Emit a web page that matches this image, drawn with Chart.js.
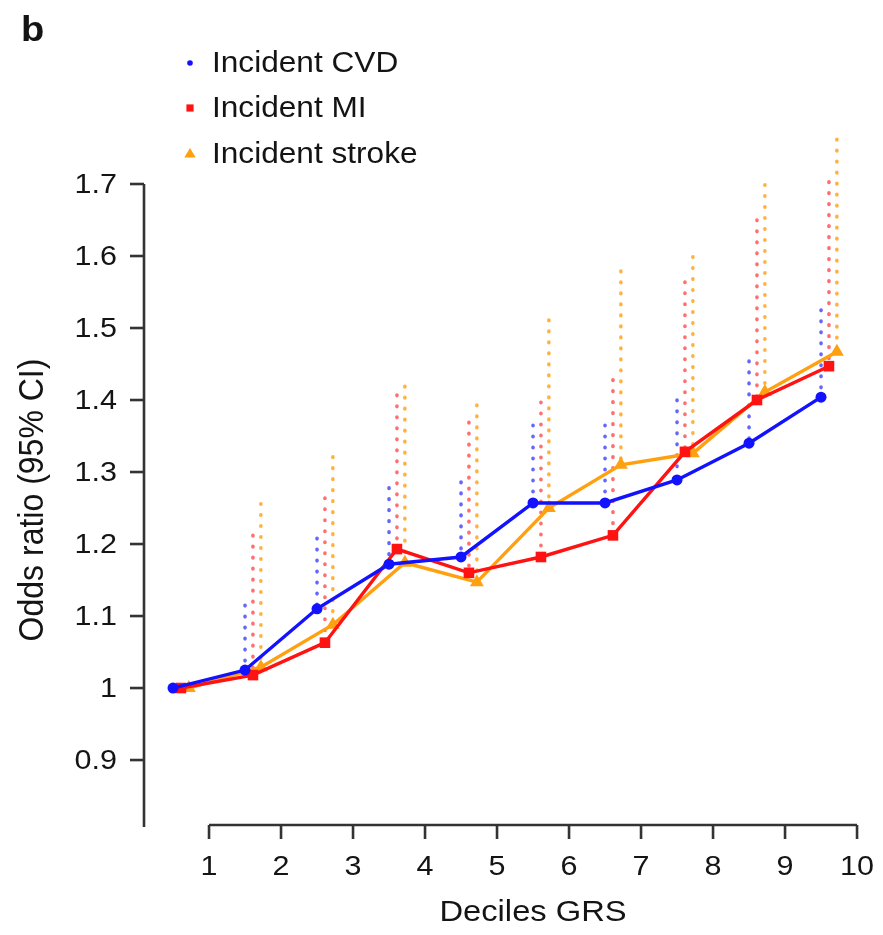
<!DOCTYPE html>
<html>
<head>
<meta charset="utf-8">
<script src="https://cdn.jsdelivr.net/npm/chart.js@4.4.1/dist/chart.umd.min.js"></script>
<style>
  html, body { margin: 0; padding: 0; background: #fff; }
  #wrap { width: 883px; height: 935px; }
</style>
</head>
<body>
<div id="wrap"><canvas id="orChart" width="883" height="935"></canvas></div>
<script>
// Datos: deciles del GRS y odds ratio (con límite superior del IC 95%)
const deciles = [1, 2, 3, 4, 5, 6, 7, 8, 9, 10];
const yTicks = [0.9, 1, 1.1, 1.2, 1.3, 1.4, 1.5, 1.6, 1.7];
const seriesNames = ['Incident CVD', 'Incident MI', 'Incident stroke'];

const cvdOR = [1.00, 1.025, 1.11, 1.172, 1.182, 1.257, 1.257, 1.289, 1.340, 1.404];
const cvdUpper = [null, 1.115, 1.208, 1.278, 1.286, 1.365, 1.365, 1.400, 1.454, 1.525];

const miOR = [1.00, 1.018, 1.063, 1.193, 1.160, 1.182, 1.212, 1.328, 1.400, 1.447];
const miUpper = [null, 1.212, 1.264, 1.407, 1.369, 1.397, 1.428, 1.564, 1.650, 1.703];

const strokeOR = [1.00, 1.029, 1.088, 1.174, 1.147, 1.250, 1.310, 1.326, 1.411, 1.467];
const strokeUpper = [null, 1.256, 1.321, 1.419, 1.393, 1.511, 1.579, 1.599, 1.699, 1.762];

// estilo de cada serie (desplazamiento horizontal dentro del decil)
const styles = [
  { color: '#1212ff', bar: 'rgba(50,50,255,0.75)', shape: 'circle', radius: 5.5, shift: -0.5 },
  { color: '#ff1212', bar: 'rgba(255,50,50,0.7)', shape: 'rect', radius: 7.5, shift: -0.39 },
  { color: '#ffa010', bar: 'rgba(255,165,30,0.85)', shape: 'triangle', radius: 8, shift: -0.28 }
];
const orSeries = [cvdOR, miOR, strokeOR];
const upperSeries = [cvdUpper, miUpper, strokeUpper];

const FONT = '"Liberation Sans", Arial, Helvetica, sans-serif';
const INK = '#141414';
const STRETCH = 1.09; // el original está algo ensanchado en horizontal

function points(values, shift) {
  return deciles.map((d, i) => ({ x: d + shift, y: values[i] }));
}

// texto ensanchado horizontalmente
function wideText(ctx, text, x, y) {
  ctx.save();
  ctx.translate(x, y);
  ctx.scale(STRETCH, 1);
  ctx.fillText(text, 0, 0);
  ctx.restore();
}

function drawMarker(ctx, shape, x, y, r, color) {
  ctx.save();
  ctx.fillStyle = color;
  ctx.beginPath();
  if (shape === 'circle') {
    ctx.arc(x, y, r, 0, Math.PI * 2);
  } else if (shape === 'rect') {
    ctx.rect(x - r, y - r, 2 * r, 2 * r);
  } else {
    ctx.moveTo(x, y - r);
    ctx.lineTo(x + r * 0.95, y + r * 0.6);
    ctx.lineTo(x - r * 0.95, y + r * 0.6);
    ctx.closePath();
  }
  ctx.fill();
  ctx.restore();
}

// Plugin: barras de error punteadas, ejes al estilo R, leyenda y títulos
const rStyle = {
  id: 'rStyle',
  beforeDatasetsDraw(chart) {
    const { ctx } = chart;
    const xs = chart.scales.x, ys = chart.scales.y;
    ctx.save();
    ctx.lineWidth = 3.6;
    ctx.lineCap = 'round';
    ctx.setLineDash([0.6, 10.4]);
    styles.forEach((st, s) => {
      ctx.strokeStyle = st.bar;
      upperSeries[s].forEach((up, i) => {
        if (up == null) return;
        const px = xs.getPixelForValue(deciles[i] + st.shift);
        ctx.beginPath();
        ctx.moveTo(px, ys.getPixelForValue(up));
        ctx.lineTo(px, ys.getPixelForValue(orSeries[s][i]));
        ctx.stroke();
      });
    });
    ctx.restore();
  },
  afterDraw(chart) {
    const { ctx, chartArea } = chart;
    const xs = chart.scales.x, ys = chart.scales.y;
    ctx.save();
    ctx.strokeStyle = '#333';
    ctx.lineWidth = 2.6;
    ctx.fillStyle = INK;

    // eje Y
    const yTop = ys.getPixelForValue(yTicks[yTicks.length - 1]);
    ctx.beginPath();
    ctx.moveTo(chartArea.left, yTop);
    ctx.lineTo(chartArea.left, chartArea.bottom);
    ctx.stroke();
    ctx.font = '28px ' + FONT;
    ctx.textAlign = 'right';
    ctx.textBaseline = 'middle';
    yTicks.forEach(v => {
      const py = ys.getPixelForValue(v);
      ctx.beginPath();
      ctx.moveTo(chartArea.left - 14, py);
      ctx.lineTo(chartArea.left, py);
      ctx.stroke();
      wideText(ctx, String(v), chartArea.left - 27, py + 1);
    });

    // eje X
    const axisY = chartArea.bottom - 2;
    ctx.beginPath();
    ctx.moveTo(xs.getPixelForValue(deciles[0]), axisY);
    ctx.lineTo(xs.getPixelForValue(deciles[deciles.length - 1]), axisY);
    ctx.stroke();
    ctx.textAlign = 'center';
    deciles.forEach(d => {
      const px = xs.getPixelForValue(d);
      ctx.beginPath();
      ctx.moveTo(px, axisY);
      ctx.lineTo(px, axisY + 14);
      ctx.stroke();
      wideText(ctx, String(d), px, axisY + 42);
    });

    // títulos de los ejes
    ctx.font = '30px ' + FONT;
    const midX = (xs.getPixelForValue(1) + xs.getPixelForValue(10)) / 2;
    wideText(ctx, 'Deciles GRS', midX, 913);
    ctx.save();
    ctx.translate(33, 500);
    ctx.rotate(-Math.PI / 2);
    ctx.scale(1, STRETCH);
    ctx.font = '32px ' + FONT;
    ctx.fillText('Odds ratio (95% CI)', 0, 0);
    ctx.restore();

    // leyenda
    ctx.font = '29px ' + FONT;
    ctx.textAlign = 'left';
    const legendY = [63, 108, 154];
    const legendR = [2.8, 3.6, 6];
    seriesNames.forEach((name, s) => {
      drawMarker(ctx, styles[s].shape, 190, legendY[s], legendR[s], styles[s].color);
      ctx.fillStyle = INK;
      wideText(ctx, name, 212, legendY[s] + 1);
    });

    // etiqueta del panel
    ctx.font = 'bold 35px ' + FONT;
    ctx.textBaseline = 'alphabetic';
    wideText(ctx, 'b', 21, 41);
    ctx.restore();
  }
};

function createChart() {
  const ctx = document.getElementById('orChart').getContext('2d');
  new Chart(ctx, {
    type: 'line',
    data: {
      datasets: seriesNames.map((name, s) => ({
        label: name,
        data: points(orSeries[s], styles[s].shift),
        borderColor: styles[s].color,
        backgroundColor: styles[s].color,
        borderWidth: 3.4,
        pointStyle: styles[s].shape,
        pointRadius: styles[s].radius,
        pointBorderWidth: 0,
        tension: 0
      }))
    },
    options: {
      responsive: false,
      animation: false,
      devicePixelRatio: 1,
      layout: { padding: { left: 144, right: 13, top: 130, bottom: 108 } },
      scales: {
        x: { type: 'linear', min: 0.097, max: 10.18, display: false },
        y: { type: 'linear', min: 0.807, max: 1.775, display: false }
      },
      plugins: {
        legend: { display: false },
        tooltip: { enabled: false }
      }
    },
    plugins: [rStyle]
  });
}

document.addEventListener('DOMContentLoaded', createChart);
</script>
</body>
</html>
